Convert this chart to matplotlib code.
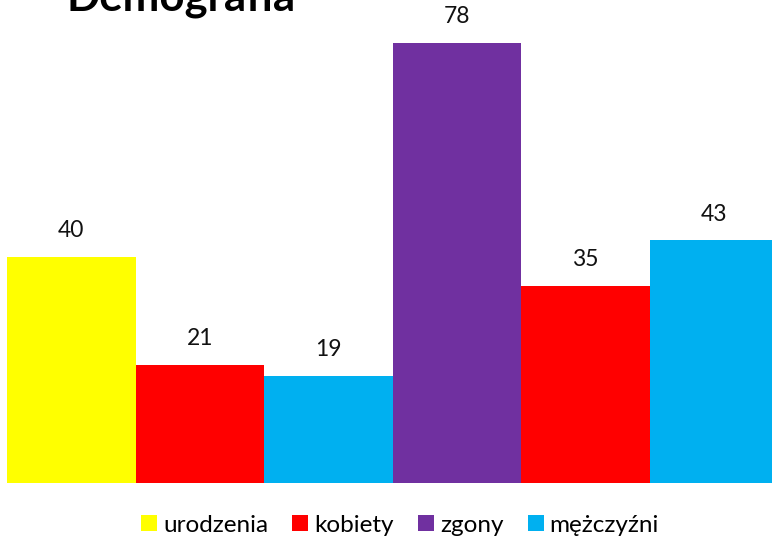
import matplotlib
matplotlib.use("Agg")
import matplotlib.pyplot as plt
from matplotlib.patches import Patch

plt.rcParams['font.family'] = ['Lato', 'DejaVu Sans']

# data
labels = ["urodzenia", "kobiety", "mężczyźni", "zgony", "kobiety", "mężczyźni"]
values = [40, 21, 19, 78, 35, 43]
colors = ["#FFFF00", "#FF0000", "#00B0F0", "#7030A0", "#FF0000", "#00B0F0"]
legend_names = ["urodzenia", "kobiety", "zgony", "mężczyźni"]
legend_colors = ["#FFFF00", "#FF0000", "#7030A0", "#00B0F0"]

W, H = 772, 541
fig = plt.figure(figsize=(W / 100, H / 100), dpi=100)
ax = fig.add_axes([7 / W, (H - 483) / H, 771 / W, (483 - 43) / H])

x = range(len(values))
ax.bar(x, values, width=1.0, color=colors, edgecolor="none")
for i, v in zip(x, values):
    ax.annotate(str(v), (i, v), xytext=(0, 19), textcoords="offset points",
                ha="center", va="center", fontsize=16.5, color="#111111",
                annotation_clip=False)

ax.set_xlim(-0.5, len(values) - 0.5)
ax.set_ylim(0, 78)
ax.axis("off")

fig.text(66 / W, 1 - 10 / H, "Demografia", fontsize=31.5, fontweight="bold",
         ha="left", va="baseline")

handles = [Patch(facecolor=c, edgecolor="none") for c in legend_colors]
fig.legend(handles, legend_names, loc="center", bbox_to_anchor=(400 / W, 1 - 525 / H),
           ncol=4, frameon=False, fontsize=17.5, handlelength=0.65, handleheight=0.65,
           handletextpad=0.25, columnspacing=1.0)

fig.savefig("out.png", dpi=100)
